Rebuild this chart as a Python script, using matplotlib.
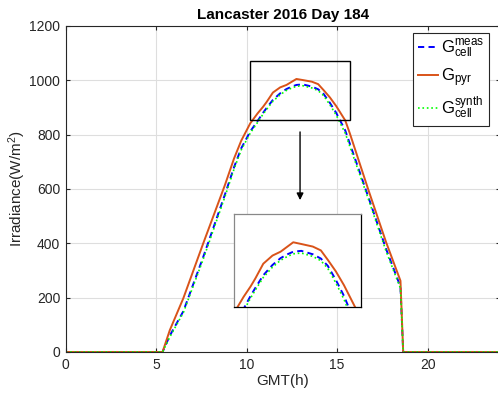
import matplotlib
matplotlib.use("Agg")
import matplotlib.pyplot as plt
from matplotlib.patches import Rectangle

plt.rcParams['font.family'] = ['Liberation Sans', 'DejaVu Sans']
plt.rcParams['mathtext.fontset'] = 'custom'
plt.rcParams['mathtext.rm'] = 'Liberation Sans'
plt.rcParams['mathtext.it'] = 'Liberation Sans'
plt.rcParams['mathtext.default'] = 'regular'

# Time of day (GMT hours) and irradiance series (W/m^2)
hours = [0, 5.0, 5.35, 5.75, 6.5, 7.6, 8.8, 9.3, 9.7, 10.2, 10.6, 10.9, 11.1,
         11.45, 11.85, 12.2, 12.5, 12.75, 13.1, 13.6, 13.95, 14.25, 14.6,
         14.95, 15.45, 15.7, 16.7, 17.7, 18.5, 18.65, 24]
g_cell_meas = [0, 0, 0, 60, 150, 350, 580, 680, 750, 812, 850, 880, 898,
               928, 952, 968, 977, 983, 985, 977, 967, 950, 917,
               880, 815, 767, 575, 380, 240, 0, 0]
g_pyr = [0, 0, 0, 80, 198, 400, 615, 712, 778, 842, 878, 902, 920,
         955, 974, 983, 995, 1005, 1001, 995, 986, 964, 937,
         905, 852, 805, 602, 405, 262, 0, 0]
g_cell_synth = [0, 0, 0, 55, 145, 342, 572, 673, 744, 806, 845, 875, 893,
                923, 947, 963, 972, 978, 980, 972, 962, 944, 910,
                872, 805, 757, 568, 372, 234, 0, 0]

labels = [r'$G_{cell}^{meas}$', r'$G_{pyr}$', r'$G_{cell}^{synth}$']
xticks = [0, 5, 10, 15, 20]
yticks = [0, 200, 400, 600, 800, 1000, 1200]

# zoom window shown in the inset
zoom_x = (10.18, 15.69)
zoom_y = (854, 1071)

BLUE = '#0000ff'
ORANGE = '#d95319'
GREEN = '#00ff00'
AXC = '#262626'


def draw_series(ax):
    ax.plot(hours, g_cell_meas, color=BLUE, lw=1.4, dashes=(3.2, 2.2), label=labels[0])
    ax.plot(hours, g_pyr, color=ORANGE, lw=1.4, label=labels[1])
    ax.plot(hours, g_cell_synth, color=GREEN, lw=1.2, ls=':', label=labels[2])


fig = plt.figure(figsize=(4.98, 3.98), dpi=100)
ax = fig.add_axes([0.132, 0.1156, 0.872, 0.8191])
draw_series(ax)
ax.set_xlim(0, 24)
ax.set_ylim(0, 1200)
ax.set_xticks(xticks)
ax.set_yticks(yticks)
ax.grid(True, color='#dedede', lw=0.8)
ax.set_axisbelow(True)
ax.tick_params(direction='in', length=3, width=0.8, colors=AXC, labelsize=10,
               top=True, right=True, pad=4)
for s in ax.spines.values():
    s.set_color(AXC)
    s.set_linewidth(0.8)
ax.set_title('Lancaster 2016 Day 184', fontsize=11, fontweight='bold', pad=5)
ax.set_xlabel('GMT(h)', fontsize=11, color=AXC, labelpad=2)
ax.set_ylabel(r'Irradiance(W/m$^2$)', fontsize=11, color=AXC, labelpad=1)

# rectangle marking the zoomed region
ax.add_patch(Rectangle((zoom_x[0], zoom_y[0]), zoom_x[1] - zoom_x[0],
                       zoom_y[1] - zoom_y[0], fill=False, ec='black', lw=1.0,
                       zorder=5))
ax.annotate('', xy=(12.95, 559), xytext=(12.95, 810),
            arrowprops=dict(arrowstyle='-|>', color='black', lw=1.0,
                            mutation_scale=10, shrinkA=0, shrinkB=0))

leg = ax.legend(loc='upper right', bbox_to_anchor=(489 / 498, 1 - 33 / 398),
                bbox_transform=fig.transFigure, borderaxespad=0,
                fontsize=12, handlelength=1.2, handletextpad=0.15,
                labelspacing=0.35, borderpad=0.3, fancybox=False,
                framealpha=1, edgecolor=AXC)
leg.get_frame().set_linewidth(0.8)

# inset with the zoomed peak
axi = fig.add_axes([234 / 498, 1 - 307 / 398, 127 / 498, 93 / 398])
draw_series(axi)
axi.set_xlim(*zoom_x)
axi.set_ylim(*zoom_y)
axi.set_xticks([])
axi.set_yticks([])
axi.spines['top'].set_color('#888888')
axi.spines['left'].set_color('#888888')
axi.spines['bottom'].set_color('black')
axi.spines['right'].set_color('black')
for s in axi.spines.values():
    s.set_linewidth(0.9)

fig.savefig('out.png', dpi=100)
